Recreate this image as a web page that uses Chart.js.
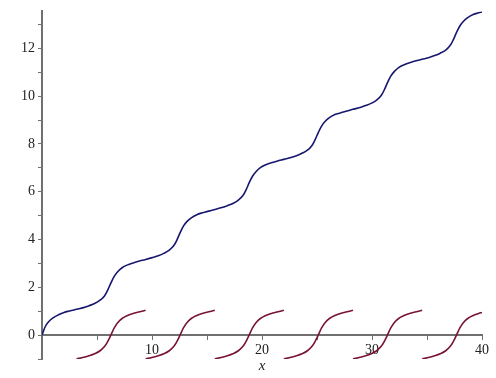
<!DOCTYPE html>
<html><head><meta charset="utf-8">
<script src="https://cdn.jsdelivr.net/npm/chart.js@4/dist/chart.umd.min.js"></script>
<style>html,body{margin:0;padding:0;background:#fff;overflow:hidden;}</style>
</head><body>
<canvas id="c" width="496" height="378"></canvas>
<script>
// Blue curve
const blueX = [0, 0.3, 0.6, 1, 1.5, 2, 2.5, 3.14,
  3.78, 4.28, 4.78, 5.28, 5.68, 5.98, 6.28, 6.58, 6.88, 7.28, 7.78, 8.28, 8.78, 9.42,
  10.07, 10.57, 11.07, 11.57, 11.97, 12.27, 12.57, 12.87, 13.17, 13.57, 14.07, 14.57, 15.07, 15.71,
  16.35, 16.85, 17.35, 17.85, 18.25, 18.55, 18.85, 19.15, 19.45, 19.85, 20.35, 20.85, 21.35, 21.99,
  22.63, 23.13, 23.63, 24.13, 24.53, 24.83, 25.13, 25.43, 25.73, 26.13, 26.63, 27.13, 27.63, 28.27,
  28.92, 29.42, 29.92, 30.42, 30.82, 31.12, 31.42, 31.72, 32.02, 32.42, 32.92, 33.42, 33.92, 34.56,
  35.20, 35.70, 36.20, 36.70, 37.10, 37.40, 37.70, 38.00, 38.30, 38.70, 39.20, 39.70, 40];
const blueY = [0, 0.36, 0.56, 0.72, 0.85, 0.95, 1.01, 1.08,
  1.15, 1.23, 1.32, 1.46, 1.64, 1.89, 2.20, 2.47, 2.65, 2.82, 2.94, 3.02, 3.09, 3.165,
  3.25, 3.32, 3.42, 3.56, 3.74, 3.99, 4.30, 4.57, 4.75, 4.91, 5.04, 5.12, 5.18, 5.26,
  5.34, 5.42, 5.51, 5.65, 5.83, 6.08, 6.39, 6.66, 6.84, 7.01, 7.13, 7.21, 7.28, 7.355,
  7.43, 7.51, 7.61, 7.74, 7.93, 8.18, 8.49, 8.76, 8.94, 9.10, 9.23, 9.30, 9.37, 9.45,
  9.53, 9.61, 9.70, 9.84, 10.02, 10.27, 10.58, 10.85, 11.03, 11.20, 11.32, 11.40, 11.47, 11.545,
  11.62, 11.70, 11.80, 11.93, 12.12, 12.37, 12.68, 12.95, 13.13, 13.29, 13.42, 13.49, 13.53];

// Red segments
const redX = [
  [3.14, 3.78, 4.28, 4.78, 5.28, 5.68, 5.98, 6.28, 6.58, 6.88, 7.28, 7.78, 8.28, 8.78, 9.42],
  [9.42, 10.07, 10.57, 11.07, 11.57, 11.97, 12.27, 12.57, 12.87, 13.17, 13.57, 14.07, 14.57, 15.07, 15.71],
  [15.71, 16.35, 16.85, 17.35, 17.85, 18.25, 18.55, 18.85, 19.15, 19.45, 19.85, 20.35, 20.85, 21.35, 21.99],
  [21.99, 22.63, 23.13, 23.63, 24.13, 24.53, 24.83, 25.13, 25.43, 25.73, 26.13, 26.63, 27.13, 27.63, 28.27],
  [28.27, 28.92, 29.42, 29.92, 30.42, 30.82, 31.12, 31.42, 31.72, 32.02, 32.42, 32.92, 33.42, 33.92, 34.56],
  [34.56, 35.20, 35.70, 36.20, 36.70, 37.10, 37.40, 37.70, 38.00, 38.30, 38.70, 39.20, 39.70, 40]
];
const redY = [
  [-1.0, -0.93, -0.865, -0.78, -0.655, -0.48, -0.26, 0.02, 0.31, 0.52, 0.695, 0.82, 0.905, 0.965, 1.04],
  [-1.0, -0.93, -0.865, -0.78, -0.655, -0.48, -0.26, 0.02, 0.31, 0.52, 0.695, 0.82, 0.905, 0.965, 1.04],
  [-1.0, -0.93, -0.865, -0.78, -0.655, -0.48, -0.26, 0.02, 0.31, 0.52, 0.695, 0.82, 0.905, 0.965, 1.04],
  [-1.0, -0.93, -0.865, -0.78, -0.655, -0.48, -0.26, 0.02, 0.31, 0.52, 0.695, 0.82, 0.905, 0.965, 1.04],
  [-1.0, -0.93, -0.865, -0.78, -0.655, -0.48, -0.26, 0.02, 0.31, 0.52, 0.695, 0.82, 0.905, 0.965, 1.04],
  [-1.0, -0.93, -0.865, -0.78, -0.655, -0.48, -0.26, 0.02, 0.31, 0.52, 0.695, 0.82, 0.905, 0.95]
];

const xTickLabels = [10, 20, 30, 40];
const yTickLabels = [0, 2, 4, 6, 8, 10, 12];
const xAxisTitle = 'x';

const BLUE = '#16166e';
const RED = '#781436';
const AXIS = '#707070';
const TEXT = '#222222';
const FONT = '"Liberation Serif", "Times New Roman", serif';

const toPts = (xs, ys) => xs.map((x, i) => ({x: x, y: ys[i]}));

const datasets = [];
redX.forEach((xs, i) => {
  datasets.push({data: toPts(xs, redY[i]), borderColor: RED, borderWidth: 1.6,
    pointRadius: 0, fill: false, tension: 0.4});
});
datasets.push({data: toPts(blueX, blueY), borderColor: BLUE, borderWidth: 1.6,
  pointRadius: 0, fill: false, tension: 0.4});

const xLabelPlugin = {
  id: 'xlab',
  afterDraw(chart) {
    const {ctx, scales} = chart;
    ctx.save();
    ctx.font = 'italic 15px ' + FONT;
    ctx.fillStyle = TEXT;
    ctx.textAlign = 'center';
    ctx.textBaseline = 'alphabetic';
    ctx.fillText(xAxisTitle, scales.x.getPixelForValue(20), scales.y.getPixelForValue(0) + 35);
    ctx.restore();
  }
};

new Chart(document.getElementById('c'), {
  type: 'line',
  data: {datasets: datasets},
  options: {
    responsive: false,
    animation: false,
    devicePixelRatio: 1,
    layout: {padding: {left: 0, right: 14, top: 8, bottom: 19}},
    plugins: {legend: {display: false}, tooltip: {enabled: false}},
    scales: {
      x: {
        type: 'linear', min: 0, max: 40, position: {y: 0},
        ticks: {stepSize: 5, autoSkip: false, maxRotation: 0, padding: 3, color: TEXT,
          font: {family: FONT, size: 14},
          callback: v => xTickLabels.includes(v) ? String(v) : ''},
        grid: {drawOnChartArea: false, drawTicks: true, tickLength: 4, color: AXIS, lineWidth: 1},
        border: {display: true, color: AXIS, width: 2}
      },
      y: {
        type: 'linear', min: -1, max: 13.55, position: 'left',
        afterFit: s => { s.width = 42; },
        ticks: {stepSize: 1, includeBounds: false, autoSkip: false, padding: 3, color: TEXT,
          font: {family: FONT, size: 14},
          callback: v => yTickLabels.includes(v) ? String(v) : ''},
        grid: {drawOnChartArea: false, drawTicks: true, tickLength: 4, color: AXIS, lineWidth: 1},
        border: {display: true, color: AXIS, width: 2}
      }
    }
  },
  plugins: [xLabelPlugin]
});
</script>
</body></html>
